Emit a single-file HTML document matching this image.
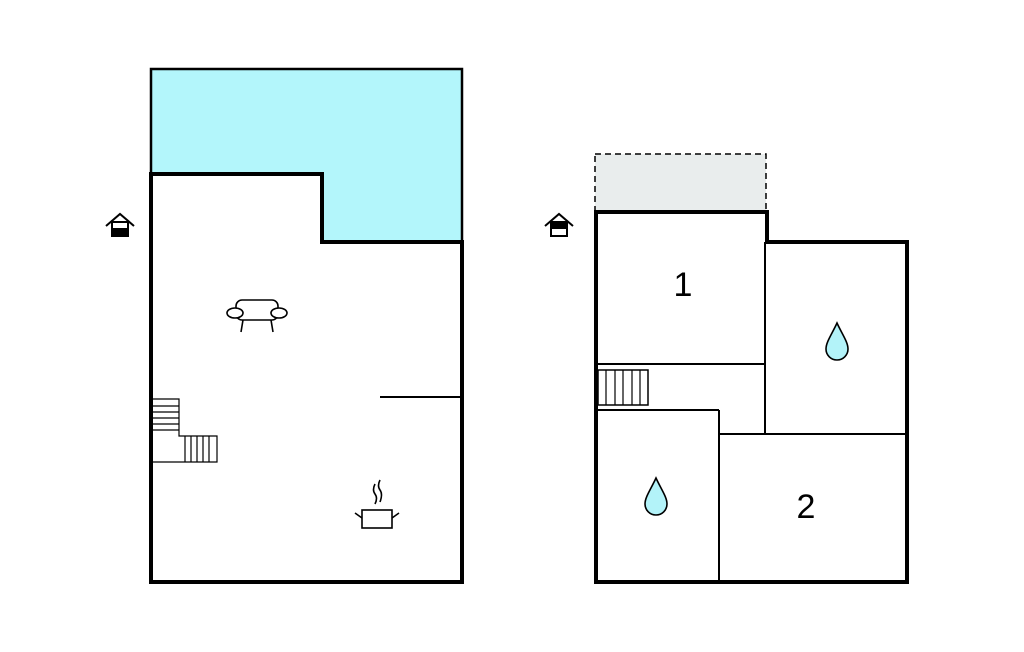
<!DOCTYPE html>
<html><head><style>body{margin:0;background:#fff}svg{display:block}</style></head><body>
<svg width="1024" height="652" viewBox="0 0 1024 652" xmlns="http://www.w3.org/2000/svg">
<rect x="151" y="69" width="311" height="173" fill="#b3f6fb" stroke="#000" stroke-width="2.5"/>
<path d="M151,174H322V242H462V582H151Z" fill="#fff" stroke="#000" stroke-width="4"/>
<line x1="380" y1="397" x2="460" y2="397" stroke="#000" stroke-width="2"/>
<g stroke="#000" stroke-width="1.2" fill="none">
<path d="M153,399H179V436H217V462H153"/>
<path d="M153,406H179M153,412H179M153,418H179M153,424H179M153,430H179"/>
<path d="M185,436V462M191,436V462M197,436V462M203,436V462M209,436V462"/>
</g>
<g stroke="#000" stroke-width="1.6" fill="#fff">
<rect x="236" y="300" width="42" height="20" rx="6"/>
<ellipse cx="235" cy="313" rx="8" ry="5"/>
<ellipse cx="279" cy="313" rx="8" ry="5"/>
<path d="M243,320L241,332M271,320L273,332" fill="none"/>
<rect x="362" y="510" width="30" height="18"/>
<path d="M355,513L362,518M399,513L392,518M375,484q-3,6 0,10t0,10M380,480q-3,6 0,10t0,12" fill="none"/>
</g>
<g stroke="#000" stroke-width="2" fill="#fff">
<path d="M106,226L120,214L134,226" fill="none"/><rect x="112" y="222" width="16" height="14"/><rect x="112" y="229" width="16" height="7" fill="#000"/>
<path d="M545,226L559,214L573,226" fill="none"/><rect x="551" y="222" width="16" height="14"/><rect x="551" y="222" width="16" height="6" fill="#000"/>
</g>
<rect x="595" y="154" width="171" height="58" fill="#e9eded" stroke="#000" stroke-width="1.5" stroke-dasharray="6,4"/>
<path d="M596,212H767V242H907V582H596Z" fill="#fff" stroke="#000" stroke-width="4"/>
<g stroke="#000" stroke-width="2" fill="none">
<path d="M598,364H765M765,242V434M719,434H905M719,410V580M598,410H719"/>
<rect x="598" y="370" width="50" height="35" stroke-width="1.5"/>
<path d="M606,370V405M615,370V405M623,370V405M632,370V405M640,370V405" stroke-width="1.2"/>
</g>
<g fill="#b3f3f9" stroke="#000" stroke-width="1.6">
<path d="M837,323C832,334 826,342 826,349A11,11 0 0 0 848,349C848,342 842,334 837,323Z"/>
<path d="M656,478C651,489 645,497 645,504A11,11 0 0 0 667,504C667,497 661,489 656,478Z"/>
</g>
<g font-family="Liberation Sans, sans-serif" font-size="34" text-anchor="middle">
<text x="683" y="296">1</text><text x="806" y="518">2</text>
</g>
</svg>
</body></html>
